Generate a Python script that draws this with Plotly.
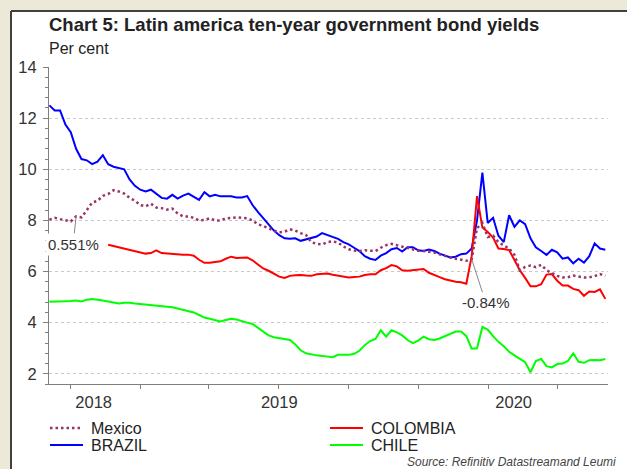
import plotly.graph_objects as go
import pandas as pd

# ---------------- data (weekly readings from the chart) ----------------
dates = pd.date_range("2018-09-04", periods=105, freq="7D")

brazil = [12.5, 12.3, 12.3, 11.75, 11.45, 10.8, 10.4, 10.35, 10.2, 10.3,
          10.55, 10.2, 10.1, 10.05, 10.0, 9.6, 9.35, 9.2, 9.13, 9.2,
          9.05, 8.88, 8.85, 9.0, 8.85, 8.97, 9.05, 8.94, 8.8, 9.1,
          8.94, 9.0, 8.94, 8.94, 8.94, 8.9, 8.9, 8.95, 8.6, 8.33,
          8.1, 7.85, 7.6, 7.42, 7.3, 7.28, 7.3, 7.2, 7.25, 7.3,
          7.37, 7.5, 7.42, 7.35, 7.28, 7.15, 7.06, 6.93, 6.8, 6.6,
          6.5, 6.45, 6.62, 6.72, 6.87, 6.92, 6.78, 6.95, 6.95, 6.83,
          6.8, 6.86, 6.8, 6.7, 6.62, 6.55, 6.58, 6.68, 6.7, 6.9,
          8.0, 9.87, 7.9, 8.1, 7.4, 7.15, 8.2, 7.75, 8.0, 7.85,
          7.3, 6.95, 6.8, 6.65, 6.85, 6.75, 6.5, 6.55, 6.32, 6.5,
          6.35, 6.6, 7.1, 6.9, 6.85]

mexico = [8.03, 8.1, 8.05, 8.0, 7.96, 8.16, 8.12, 8.4, 8.7, 8.76,
          8.96, 9.03, 9.18, 9.13, 9.05, 8.88, 8.77, 8.6, 8.55, 8.65,
          8.5, 8.48, 8.42, 8.46, 8.27, 8.16, 8.15, 8.1, 8.0, 8.02,
          8.08, 8.0, 8.0, 8.08, 8.1, 8.12, 8.1, 8.08, 8.0, 7.85,
          7.78, 7.68, 7.6, 7.53, 7.56, 7.65, 7.6, 7.5, 7.43, 7.15,
          7.08, 7.06, 7.15, 7.18, 7.13, 6.98, 6.87, 6.82, 6.8, 6.83,
          6.82, 6.8, 6.93, 7.03, 7.08, 7.02, 6.98, 6.9, 6.85, 6.81,
          6.8, 6.77, 6.74, 6.67, 6.6, 6.55, 6.5, 6.46, 6.42, 6.48,
          7.7, 7.9, 7.35, 7.4, 7.15, 7.02, 6.9, 6.65, 6.05, 6.18,
          6.23, 6.17, 6.26, 6.05, 5.93, 5.83, 5.77, 5.78, 5.84, 5.8,
          5.77, 5.77, 5.82, 5.9, 5.82]

colombia = [None] * 11 + [7.05, 7.0, 6.93, 6.88, 6.83, 6.78, 6.73, 6.7, 6.72,
          6.83, 6.72, 6.7, 6.68, 6.66, 6.66, 6.66, 6.62, 6.46, 6.34,
          6.34, 6.38, 6.4, 6.5, 6.58, 6.53, 6.53, 6.55, 6.44, 6.28,
          6.12, 6.03, 5.93, 5.8, 5.75, 5.83, 5.85, 5.86, 5.84, 5.83,
          5.89, 5.9, 5.92, 5.87, 5.83, 5.78, 5.77, 5.79, 5.8, 5.86,
          5.89, 5.89, 6.05, 6.13, 6.25, 6.2, 6.05, 6.03, 6.05, 6.08,
          6.1, 5.95, 5.85, 5.78, 5.7, 5.64, 5.6, 5.58, 5.52, 6.6,
          8.95, 7.72, 7.55, 7.33, 6.9, 6.88, 6.84, 6.45, 6.05, 5.75,
          5.42, 5.42, 5.5, 5.88, 5.9, 5.64, 5.45, 5.45, 5.32, 5.27,
          5.05, 5.22, 5.2, 5.3, 4.93]

chile = [4.82, 4.82, 4.83, 4.84, 4.85, 4.87, 4.83, 4.9, 4.92, 4.9,
         4.87, 4.83, 4.8, 4.75, 4.78, 4.78, 4.75, 4.73, 4.72, 4.7,
         4.68, 4.65, 4.62, 4.6, 4.55, 4.5, 4.45, 4.4, 4.3, 4.2,
         4.15, 4.1, 4.05, 4.1, 4.15, 4.12, 4.05, 4.0, 3.95, 3.8,
         3.65, 3.5, 3.43, 3.4, 3.36, 3.32, 3.15, 2.92, 2.8, 2.75,
         2.72, 2.7, 2.66, 2.65, 2.74, 2.74, 2.74, 2.78, 2.9, 3.12,
         3.28, 3.36, 3.7, 3.45, 3.7, 3.62, 3.5, 3.32, 3.2, 3.3,
         3.45, 3.35, 3.32, 3.38, 3.47, 3.55, 3.65, 3.65, 3.47, 2.98,
         3.0, 3.83, 3.73, 3.47, 3.25, 3.08, 2.86, 2.72, 2.6, 2.45,
         2.06, 2.5, 2.58, 2.3, 2.25, 2.38, 2.4, 2.5, 2.8, 2.47,
         2.43, 2.53, 2.54, 2.53, 2.58]

year_labels = ["2018", "2019", "2020"]
year_label_dates = ["2018-11-01", "2019-07-02", "2020-05-04"]
quarter_ticks = ["2018-10-01", "2019-01-01", "2019-04-01", "2019-07-01",
                 "2019-10-01", "2020-01-01", "2020-04-01", "2020-07-01"]
y_ticks = [2, 4, 6, 8, 10, 12, 14]

# ---------------- figure ----------------
W, H = 627, 469
L, R, T, B = 49, 19, 67, 85
PW, PH = W - L - R, H - T - B
FONT = "Liberation Sans, Arial, sans-serif"


def px(x):
    return (x - L) / PW


def py(y):
    return (H - B - y) / PH


BLUE, RED, GREEN, PURPLE = "#0000FF", "#FF0000", "#00FF00", "#993366"

fig = go.Figure()
fig.add_trace(go.Scatter(x=dates, y=brazil, mode="lines", name="BRAZIL",
                         line=dict(color=BLUE, width=2)))
fig.add_trace(go.Scatter(x=dates, y=chile, mode="lines", name="CHILE",
                         line=dict(color=GREEN, width=2)))
fig.add_trace(go.Scatter(x=dates, y=colombia, mode="lines", name="COLOMBIA",
                         line=dict(color=RED, width=2)))
fig.add_trace(go.Scatter(x=dates, y=mexico, mode="lines", name="Mexico",
                         line=dict(color=PURPLE, width=2.5, dash="2.5px,3px")))

shapes = [
    dict(type="rect", xref="paper", yref="paper", x0=px(10), x1=px(640),
         y0=py(480), y1=py(10), fillcolor="white", line=dict(width=0), layer="below"),
    dict(type="line", xref="paper", yref="paper", x0=px(11), x1=px(640),
         y0=py(11), y1=py(11), line=dict(color="#404040", width=2)),
    dict(type="line", xref="paper", yref="paper", x0=px(11), x1=px(11),
         y0=py(11), y1=py(480), line=dict(color="#404040", width=2)),
]

annotations = [
    dict(text="<b>Chart 5: Latin america ten-year government bond yields</b>",
         xref="paper", yref="paper", x=px(47), y=py(25), xanchor="left", yanchor="middle",
         showarrow=False, font=dict(family=FONT, size=18.5, color="#222222")),
    dict(text="Per cent", xref="paper", yref="paper", x=px(47), y=py(49),
         xanchor="left", yanchor="middle", showarrow=False,
         font=dict(family=FONT, size=16, color="#222222")),
    dict(text="<i>Source: Refinitiv Datastreamand Leumi</i>", xref="paper", yref="paper",
         x=px(618), y=py(462), xanchor="right", yanchor="middle", showarrow=False,
         font=dict(family=FONT, size=12, color="#444444")),
    dict(text="0.551%", x=dates[5], y=mexico[5], xref="x", yref="y",
         ax=-3, ay=28, showarrow=True, arrowhead=0, arrowwidth=1, arrowcolor="#888888",
         bgcolor="white", borderpad=2,
         font=dict(family=FONT, size=15, color="#333333")),
    dict(text="-0.84%", x=dates[79], y=mexico[79], xref="x", yref="y",
         ax=14, ay=43, showarrow=True, arrowhead=0, arrowwidth=1, arrowcolor="#888888",
         bgcolor="white", borderpad=1,
         font=dict(family=FONT, size=15, color="#333333")),
]

# custom legend
legend_items = [("Mexico", PURPLE, "2.5px,3px", 2.5, 50, 428),
                ("BRAZIL", BLUE, "solid", 2, 50, 445),
                ("COLOMBIA", RED, "solid", 2, 330, 428),
                ("CHILE", GREEN, "solid", 2, 330, 445)]
for name, col, dash, w, lx, ly in legend_items:
    shapes.append(dict(type="line", xref="paper", yref="paper", x0=px(lx), x1=px(lx + 33),
                       y0=py(ly), y1=py(ly), line=dict(color=col, width=w, dash=dash)))
    annotations.append(dict(text=name, xref="paper", yref="paper", x=px(lx + 39), y=py(ly),
                            xanchor="left", yanchor="middle", showarrow=False,
                            font=dict(family=FONT, size=16, color="#222222")))

fig.update_layout(
    width=W, height=H,
    margin=dict(l=L, r=R, t=T, b=B, pad=0),
    paper_bgcolor="#ECE9D8", plot_bgcolor="white",
    showlegend=False,
    font=dict(family=FONT, size=16, color="#333333"),
    shapes=shapes, annotations=annotations,
    xaxis=dict(type="date", range=["2018-09-03 12:00", "2020-09-04 12:00"],
               tickmode="array", tickvals=year_label_dates, ticktext=year_labels,
               ticks="outside", ticklen=0, tickcolor="white", ticklabelstandoff=3,
               showgrid=False, zeroline=False,
               showline=True, linecolor="#7f7f7f", linewidth=1,
               minor=dict(tickmode="array", tickvals=quarter_ticks, ticks="outside",
                          ticklen=4, tickcolor="#7f7f7f", tickwidth=1, showgrid=False),
               tickfont=dict(family=FONT, size=16.5, color="#333333")),
    yaxis=dict(range=[1.6, 14], tickmode="array", tickvals=y_ticks,
               ticks="outside", ticklen=5, tickcolor="#7f7f7f", ticklabelstandoff=3,
               showgrid=True, gridcolor="#c8c8c8", griddash="dot", gridwidth=1,
               zeroline=False, showline=True, linecolor="#7f7f7f", linewidth=1,
               minor=dict(dtick=0.4, tick0=2, ticks="outside", ticklen=3,
                          tickcolor="#7f7f7f", showgrid=False),
               tickfont=dict(family=FONT, size=16.5, color="#333333")),
)

fig.write_html("out.html", config={"displayModeBar": False},
               post_script="document.body.style.margin='0';document.body.style.padding='0';")
